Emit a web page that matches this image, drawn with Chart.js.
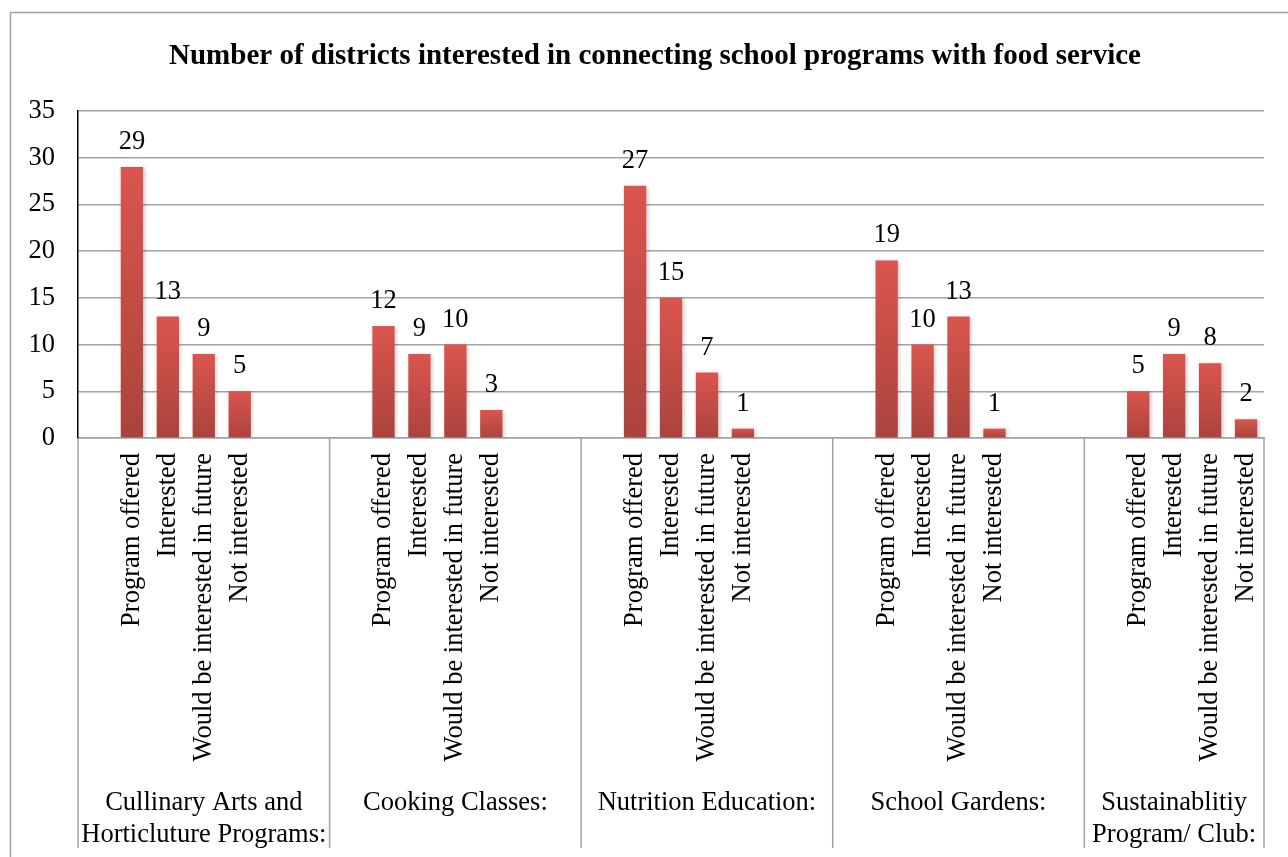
<!DOCTYPE html>
<html>
<head>
<meta charset="utf-8">
<script src="https://cdn.jsdelivr.net/npm/chart.js@4"></script>
<style>
    html, body { margin: 0; padding: 0; background: #fff; }
    #wrap { position: relative; width: 1288px; height: 857px; }
</style>
</head>
<body>
<div id="wrap"><canvas id="programChart"></canvas></div>
<script>
// Survey answers per program type
const chartTitle = 'Number of districts interested in connecting school programs with food service';
const programGroups = [
    ['Cullinary Arts and', 'Horticluture Programs:'],
    ['Cooking Classes:'],
    ['Nutrition Education:'],
    ['School Gardens:'],
    ['Sustainablitiy', 'Program/ Club:']
];
const responseLabels = ['Program offered', 'Interested', 'Would be interested in future', 'Not interested'];
const programOffered = [29, 12, 27, 19, 5];
const interested = [13, 9, 15, 10, 9];
const futureInterest = [9, 10, 7, 13, 8];
const notInterested = [5, 3, 1, 1, 2];
const yTicks = [0, 5, 10, 15, 20, 25, 30, 35];

const serif = "'Liberation Serif', 'Times New Roman', serif";
const textSize = 26.5;
const gridGray = '#a3a3a3';

// Each group: one blank slot, four answers, two blank slots (last group is cut after its answers)
const labels = [];
const values = [];
const groupStart = [];
programGroups.forEach((g, i) => {
    groupStart.push(labels.length);
    labels.push(''); values.push(null);
    const row = [programOffered[i], interested[i], futureInterest[i], notInterested[i]];
    responseLabels.forEach((r, j) => { labels.push(r); values.push(row[j]); });
    if (i < programGroups.length - 1) {
        labels.push('', ''); values.push(null, null);
    }
});

function barGradient(context) {
    const chart = context.chart;
    const v = context.raw;
    if (v == null || !chart.chartArea) return '#c84a44';
    const y = chart.scales.y;
    const top = y.getPixelForValue(v);
    const bottom = y.getPixelForValue(0);
    const g = chart.ctx.createLinearGradient(0, top, 0, bottom);
    g.addColorStop(0, '#da554e');
    g.addColorStop(1, '#ab433d');
    return g;
}

const decorations = {
    id: 'decorations',
    beforeDraw(chart) {
        const ctx = chart.ctx;
        ctx.save();
        ctx.fillStyle = '#fff';
        ctx.fillRect(0, 0, chart.width, chart.height);
        ctx.strokeStyle = '#a0a0a0';
        ctx.lineWidth = 1.5;
        ctx.strokeRect(10.5, 12.5, 1400, 1000);
        ctx.fillStyle = '#000';
        ctx.font = 'bold 29px ' + serif;
        ctx.textAlign = 'center';
        ctx.textBaseline = 'middle';
        ctx.fillText(chartTitle, 655, 57);
        ctx.restore();
    },
    beforeDatasetsDraw(chart) {
        const ctx = chart.ctx;
        ctx.save();
        ctx.shadowColor = 'rgba(0,0,0,0.22)';
        ctx.shadowBlur = 4;
        ctx.shadowOffsetX = 1.5;
        ctx.shadowOffsetY = 1;
    },
    afterDatasetsDraw(chart) {
        const ctx = chart.ctx;
        ctx.restore();
        // value labels above the bars
        ctx.save();
        ctx.fillStyle = '#000';
        ctx.font = textSize + 'px ' + serif;
        ctx.textAlign = 'center';
        ctx.textBaseline = 'alphabetic';
        const meta = chart.getDatasetMeta(0);
        meta.data.forEach((bar, i) => {
            const v = values[i];
            if (v == null) return;
            ctx.fillText(String(v), bar.x, bar.y - 18);
        });
        ctx.restore();
    },
    afterDraw(chart) {
        // group separators and group names under the answer labels
        const ctx = chart.ctx;
        const x = chart.scales.x;
        const area = chart.chartArea;
        const slot = x.getPixelForValue(1) - x.getPixelForValue(0);
        const edges = groupStart.map(s => x.getPixelForValue(s) - slot / 2);
        edges.push(area.right);
        ctx.save();
        ctx.strokeStyle = gridGray;
        ctx.lineWidth = 1.5;
        edges.forEach(e => {
            ctx.beginPath();
            ctx.moveTo(e, area.bottom);
            ctx.lineTo(e, 848);
            ctx.stroke();
        });
        ctx.fillStyle = '#000';
        ctx.font = textSize + 'px ' + serif;
        ctx.textAlign = 'center';
        ctx.textBaseline = 'alphabetic';
        programGroups.forEach((lines, i) => {
            const cx = (edges[i] + edges[i + 1]) / 2;
            lines.forEach((line, k) => ctx.fillText(line, cx, 810 + k * 32));
        });
        ctx.restore();
    }
};

new Chart(document.getElementById('programChart'), {
    type: 'bar',
    data: {
        labels: labels,
        datasets: [{
            data: values,
            backgroundColor: barGradient,
            borderWidth: 0,
            categoryPercentage: 1,
            barPercentage: 0.62
        }]
    },
    options: {
        responsive: true,
        maintainAspectRatio: false,
        animation: false,
        layout: { padding: { top: 111, right: 24, left: 0, bottom: 0 } },
        scales: {
            x: {
                grid: { display: false },
                border: { color: gridGray, width: 1.5 },
                ticks: {
                    autoSkip: false,
                    minRotation: 90,
                    maxRotation: 90,
                    padding: 7,
                    color: '#000',
                    font: { family: serif, size: textSize }
                },
                afterFit: scale => { scale.height = 857 - 438; }
            },
            y: {
                min: 0,
                max: 35,
                afterBuildTicks: scale => { scale.ticks = yTicks.map(v => ({ value: v })); },
                grid: { color: gridGray, lineWidth: 1.5, drawTicks: false },
                border: { color: '#000', width: 1.5 },
                ticks: {
                    padding: 23,
                    color: '#000',
                    font: { family: serif, size: textSize }
                },
                afterFit: scale => { scale.width = 78; }
            }
        },
        plugins: {
            legend: { display: false },
            tooltip: { enabled: false }
        }
    },
    plugins: [decorations]
});
</script>
</body>
</html>
